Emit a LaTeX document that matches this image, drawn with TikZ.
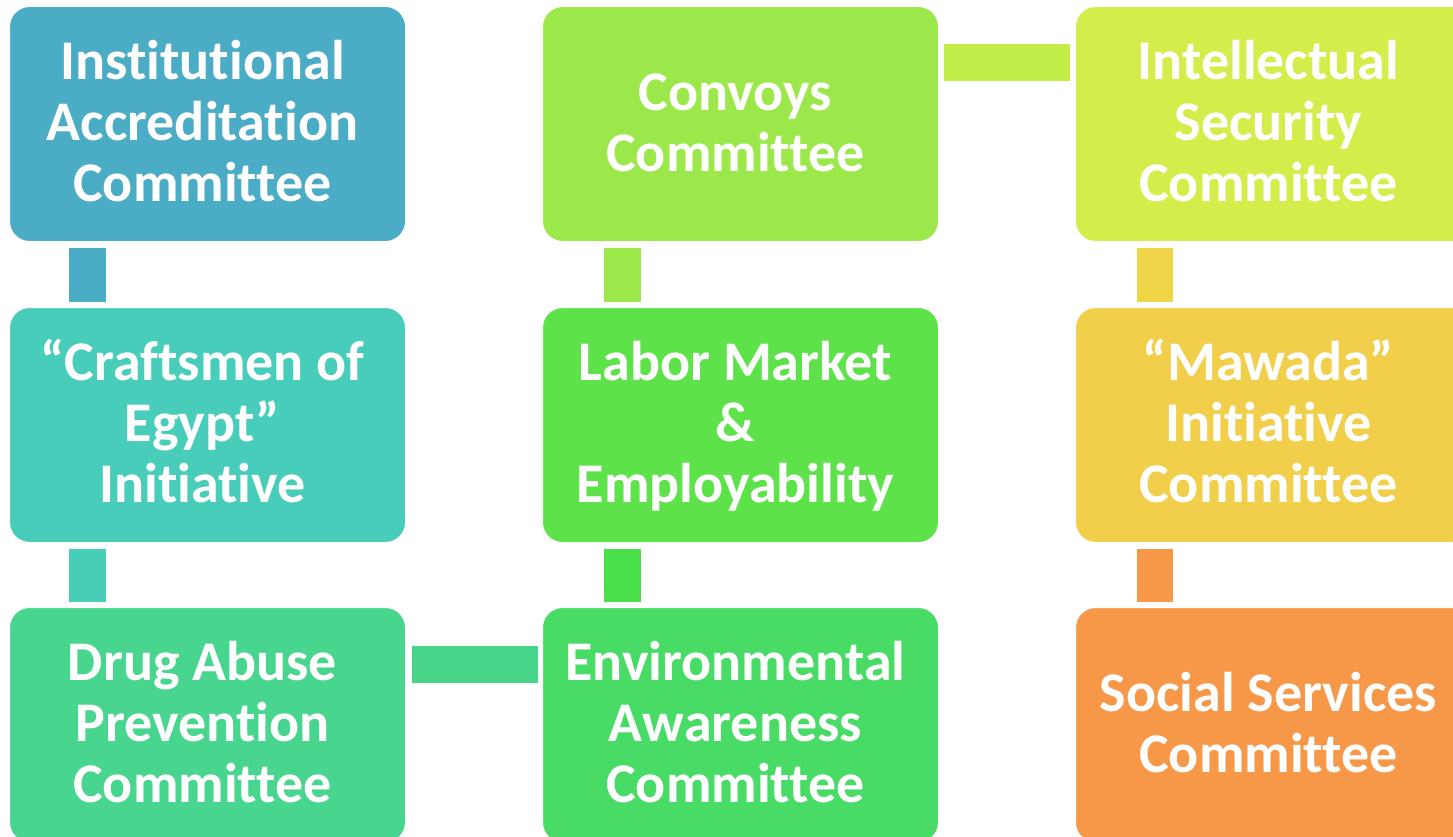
\documentclass[tikz,border=0pt]{standalone}
\usepackage{fontspec}
\setmainfont[Ligatures=NoCommon]{Carlito}
\definecolor{cA}{HTML}{4BACC6}
\definecolor{cB}{HTML}{49CDBB}
\definecolor{cC}{HTML}{48D58E}
\definecolor{cD}{HTML}{9CE84B}
\definecolor{cE}{HTML}{5EE24A}
\definecolor{cF}{HTML}{48DB66}
\definecolor{cG}{HTML}{D4ED4B}
\definecolor{cH}{HTML}{F2CF4A}
\definecolor{cI}{HTML}{F79848}
\definecolor{kB}{HTML}{48CDB9}
\definecolor{kC}{HTML}{48D58A}
\definecolor{kE}{HTML}{4AE04A}
\definecolor{kG}{HTML}{C2EC48}
\definecolor{kH}{HTML}{F0D548}
\newcommand{\lbl}[1]{\raisebox{0pt}[\dimexpr\height+9pt\relax]{\hspace*{-10pt}\begin{tabular}{@{}c@{}}#1\end{tabular}}}
\tikzset{
  box/.style={draw=white, line width=1pt, rounded corners=20pt, anchor=north west,
    minimum width=396pt, minimum height=235pt, inner sep=0pt,
    text=white, font=\fontsize{56}{61}\selectfont\bfseries},
}
\begin{document}
\begin{tikzpicture}[x=1pt,y=-1pt]
\useasboundingbox (0,0) rectangle (1453,837);
\clip (0,0) rectangle (1453,837);
\node[box, fill=cA] (a1) at (9,6) {\lbl{Institutional\\Accreditation\\Committee}};
\node[box, fill=cB] (a2) at (9,307) {\lbl{“Craftsmen of\\Egypt”\\Initiative}};
\node[box, fill=cC] (a3) at (9,607) {\lbl{Drug Abuse\\Prevention\\Committee}};
\node[box, fill=cD] (b1) at (542,6) {\lbl{Convoys\\Committee}};
\node[box, fill=cE] (b2) at (542,307) {\lbl{Labor Market\\\&\\Employability}};
\node[box, fill=cF] (b3) at (542,607) {\lbl{Environmental\\Awareness\\Committee}};
\node[box, fill=cG] (c1) at (1075,6) {\lbl{Intellectual\\Security\\Committee}};
\node[box, fill=cH] (c2) at (1075,307) {\lbl{“Mawada”\\Initiative\\Committee}};
\node[box, fill=cI] (c3) at (1075,607) {\lbl{Social Services\\Committee}};
% vertical connectors
\fill[cA] ([xshift=60pt,yshift=-6pt]a1.south west) rectangle ([xshift=97pt,yshift=5pt]a2.north west);
\fill[kB] ([xshift=60pt,yshift=-6pt]a2.south west) rectangle ([xshift=97pt,yshift=5pt]a3.north west);
\fill[cD] ([xshift=62pt,yshift=-6pt]b1.south west) rectangle ([xshift=99pt,yshift=5pt]b2.north west);
\fill[kE] ([xshift=62pt,yshift=-6pt]b2.south west) rectangle ([xshift=99pt,yshift=5pt]b3.north west);
\fill[kH] ([xshift=62pt,yshift=-6pt]c1.south west) rectangle ([xshift=98pt,yshift=5pt]c2.north west);
\fill[cI] ([xshift=62pt,yshift=-6pt]c2.south west) rectangle ([xshift=98pt,yshift=5pt]c3.north west);
% horizontal connectors
\fill[kG] ([xshift=5pt,yshift=-38pt]b1.north east) rectangle ([xshift=-5pt,yshift=-75pt]c1.north west);
\fill[kC] ([xshift=6pt,yshift=-39pt]a3.north east) rectangle ([xshift=-4pt,yshift=-76pt]b3.north west);
\end{tikzpicture}
\end{document}
